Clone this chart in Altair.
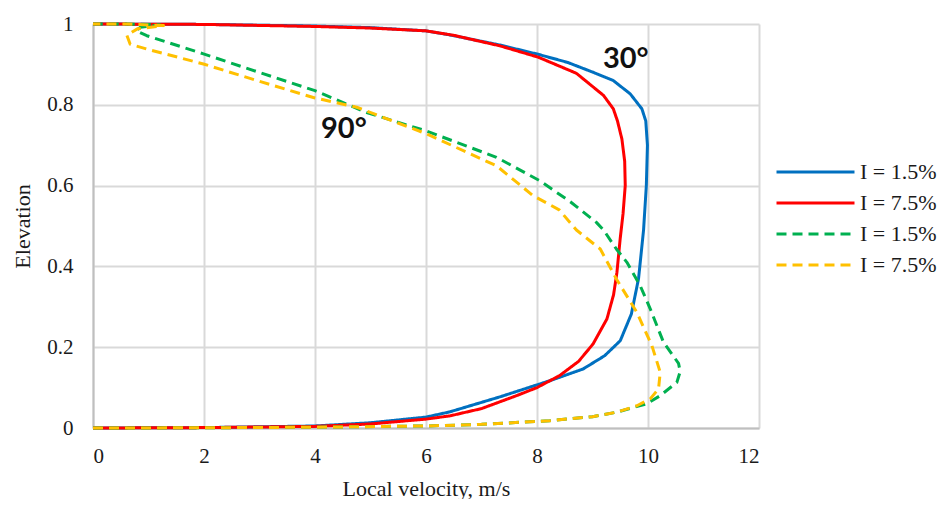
import altair as alt
import pandas as pd

# 30 deg, I = 1.5%
blue_v = [0, 2, 4, 5, 6, 6.43, 7.33, 8.23, 8.83, 9.22, 9.5, 9.7, 9.83, 9.92, 9.97, 9.99, 9.96, 9.89,
          9.68, 9.375, 9.02, 8.55, 8.02, 7.33, 6.43, 6.0, 5.0, 3.97, 2.0, 0]
blue_e = [0, 0.001, 0.005, 0.013, 0.027, 0.04, 0.077, 0.117, 0.146, 0.179, 0.216, 0.282, 0.37, 0.49,
          0.6, 0.7, 0.76, 0.79, 0.827, 0.86, 0.88, 0.905, 0.925, 0.948, 0.973, 0.983, 0.991, 0.995, 0.999, 1.0]
# 30 deg, I = 7.5%
red_v = [0, 2, 4, 5, 6, 6.43, 7.0, 7.63, 8.0, 8.41, 8.75, 9.01, 9.26, 9.38, 9.44, 9.5, 9.55, 9.59, 9.58,
         9.53, 9.45, 9.375, 9.2, 8.71, 8.02, 7.33, 6.5, 6.0, 5.0, 3.97, 2.0, 0]
red_e = [0, 0.001, 0.004, 0.01, 0.022, 0.03, 0.048, 0.08, 0.1, 0.13, 0.165, 0.208, 0.27, 0.33, 0.385,
         0.47, 0.53, 0.6, 0.66, 0.715, 0.76, 0.79, 0.823, 0.878, 0.918, 0.946, 0.972, 0.983, 0.99, 0.994, 0.999, 1.0]
# 90 deg, I = 1.5%
green_v = [0, 2, 4, 6, 7, 8.23, 9.0, 9.43, 9.98, 10.22, 10.52, 10.58, 10.55, 10.28, 10.04, 9.86, 9.62,
           9.43, 9.2, 9.07, 8.6, 8.05, 7.27, 6.01, 4.93, 4.0, 3.0, 1.99, 0.97, 0.78, 0.85, 1.2, 0.6, 0]
green_e = [0, 0.0005, 0.002, 0.005, 0.009, 0.018, 0.028, 0.039, 0.06, 0.08, 0.113, 0.14, 0.16, 0.212,
           0.295, 0.352, 0.41, 0.443, 0.49, 0.509, 0.56, 0.612, 0.67, 0.735, 0.781, 0.835, 0.88, 0.926,
           0.971, 0.983, 0.992, 0.998, 1.0, 1.0]
# 90 deg, I = 7.5%
yellow_v = [0, 2, 4, 6, 7, 8.23, 9.0, 9.43, 9.8, 10.04, 10.19, 10.22, 10.07, 9.8, 9.43, 9.14, 8.71, 8.4,
            7.93, 7.27, 6.01, 4.75, 3.97, 3.0, 1.99, 0.97, 0.67, 0.61, 0.8, 1.27, 0.6, 0]
yellow_e = [0, 0.0005, 0.002, 0.005, 0.009, 0.018, 0.028, 0.039, 0.055, 0.072, 0.097, 0.138, 0.204,
            0.286, 0.369, 0.443, 0.49, 0.54, 0.575, 0.649, 0.728, 0.794, 0.818, 0.858, 0.901, 0.938,
            0.95, 0.972, 0.988, 0.996, 1.0, 1.0]

series_ids = ["s1", "s2", "s3", "s4"]
series_labels = ["I = 1.5%", "I = 7.5%", "I = 1.5%", "I = 7.5%"]
series_colors = ["#0070C0", "#FF0000", "#00B050", "#FFC000"]

ann_text = ["30°", "90°"]
ann_v = [9.6, 4.52]
ann_e = [0.913, 0.739]

rows = []
for sid, vs, es in zip(series_ids, [blue_v, red_v, green_v, yellow_v], [blue_e, red_e, green_e, yellow_e]):
    for i, (v, e) in enumerate(zip(vs, es)):
        rows.append({"series": sid, "v": v, "e": e, "idx": i})
df = pd.DataFrame(rows)
ann = pd.DataFrame({"t": ann_text, "v": ann_v, "e": ann_e})

label_expr = " : ".join(
    [f"datum.value == '{s}' ? '{l}'" for s, l in zip(series_ids, series_labels)]) + " : ''"

font = "Liberation Serif"
xs = alt.Scale(domain=[0, 12], nice=False)
ys = alt.Scale(domain=[0, 1], nice=False)


def make_legend():
    return alt.Legend(title=None, labelExpr=label_expr, orient="none",
                      legendX=682, legendY=137, symbolType="stroke",
                      symbolSize=6084, symbolStrokeWidth=3, rowPadding=9, clipHeight=22,
                      labelFont=font, labelFontSize=22, labelColor="#1a1a1a",
                      labelOffset=4)


lines = alt.Chart(df).mark_line(strokeWidth=3, strokeCap="butt", strokeJoin="round").encode(
    x=alt.X("v:Q", scale=xs, title="Local velocity, m/s",
            axis=alt.Axis(values=[0, 2, 4, 6, 8, 10, 12], format="~g", labelPadding=17, titlePadding=12)),
    y=alt.Y("e:Q", scale=ys, title="Elevation",
            axis=alt.Axis(values=[0, 0.2, 0.4, 0.6, 0.8, 1], format="~g", labelPadding=20, titlePadding=12)),
    color=alt.Color("series:N", scale=alt.Scale(domain=series_ids, range=series_colors),
                    legend=make_legend()),
    strokeDash=alt.StrokeDash("series:N", scale=alt.Scale(domain=series_ids,
                              range=[[1, 0], [1, 0], [10, 6], [10, 6]]), legend=make_legend()),
    order="idx:Q",
)

texts = alt.Chart(ann).mark_text(font="Lato", fontWeight="bold", fontSize=29, color="#111111",
                                 align="center", baseline="middle").encode(
    x=alt.X("v:Q", scale=xs), y=alt.Y("e:Q", scale=ys), text="t:N")

chart = alt.layer(lines, texts).properties(
    width=666, height=404,
    autosize=alt.AutoSizeParams(type="none"),
    padding={"left": 85, "top": 16, "right": 179, "bottom": 71},
).configure_view(stroke=None).configure_axis(
    labelFont=font, labelFontSize=21, labelColor="#1a1a1a",
    titleFont=font, titleFontSize=22, titleColor="#1a1a1a", titleFontWeight="normal",
    gridColor="#D9D9D9", gridWidth=2, domainColor="#BFBFBF", domainWidth=2, ticks=False,
)

chart.save("out.html", embed_options={"renderer": "svg", "actions": False})
